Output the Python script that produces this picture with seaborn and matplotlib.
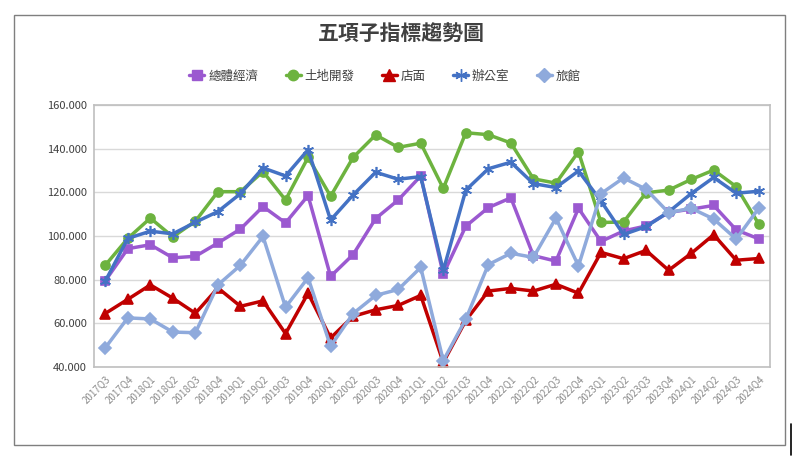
import numpy as np
import pandas as pd
import matplotlib
matplotlib.use("Agg")
import matplotlib.pyplot as plt
import matplotlib.patches as mpatches
import matplotlib.lines as mlines
import seaborn as sns

quarters = ["2017Q3", "2017Q4",
            "2018Q1", "2018Q2", "2018Q3", "2018Q4",
            "2019Q1", "2019Q2", "2019Q3", "2019Q4",
            "2020Q1", "2020Q2", "2020Q3", "2020Q4",
            "2021Q1", "2021Q2", "2021Q3", "2021Q4",
            "2022Q1", "2022Q2", "2022Q3", "2022Q4",
            "2023Q1", "2023Q2", "2023Q3", "2023Q4",
            "2024Q1", "2024Q2", "2024Q3", "2024Q4"]

macro = [79.5, 94.2, 96.0, 90.0, 90.7, 96.8, 103.2, 113.5, 106.0, 118.5,
         81.5, 91.5, 108.0, 116.5, 127.5, 82.5, 104.5, 113.0, 117.5, 91.0,
         88.5, 112.7, 97.5, 102.3, 104.6, 110.8, 112.3, 114.0, 102.8, 98.7]
land = [86.6, 98.9, 108.2, 99.6, 106.8, 120.3, 120.3, 129.5, 116.5, 136.0,
        118.2, 136.0, 146.3, 140.6, 142.5, 121.8, 147.3, 146.4, 142.6, 126.2,
        124.2, 138.6, 106.2, 106.4, 119.8, 121.0, 125.9, 130.2, 122.6, 105.5]
shop = [64.5, 71.0, 77.6, 71.5, 64.6, 76.2, 67.8, 70.3, 55.3, 73.8,
        53.3, 63.2, 66.2, 68.2, 72.8, 42.1, 61.3, 74.8, 76.0, 74.8,
        77.9, 73.8, 92.5, 89.6, 93.4, 84.3, 92.0, 100.6, 88.9, 89.7]
office = [79.3, 98.9, 102.2, 101.0, 106.3, 111.2, 119.4, 131.2, 127.5, 139.5,
          107.3, 118.8, 129.2, 126.0, 127.2, 84.2, 121.0, 130.8, 133.8, 124.0,
          122.2, 129.8, 116.0, 100.7, 104.3, 111.0, 119.4, 126.8, 119.6, 120.5]
hotel = [48.8, 62.5, 62.0, 56.0, 55.7, 77.6, 86.6, 99.8, 67.4, 80.9,
         49.5, 64.5, 72.8, 75.5, 85.6, 42.9, 61.9, 86.9, 92.1, 90.2,
         108.2, 86.3, 119.4, 126.6, 121.4, 110.7, 112.7, 107.8, 98.6, 112.7]

series_names = ["總體經濟", "土地開發", "店面", "辦公室", "旅館"]
series_values = [macro, land, shop, office, hotel]
colors = ["#9B59D0", "#6DB33F", "#C00000", "#4472C4", "#8FAADC"]
markers = ["s", "o", "^", (6, 2, 0), "D"]
msizes = [6, 6.5, 7, 8, 6]

sns.set_theme(style="white")
plt.rcParams["font.family"] = ["Noto Sans CJK TC", "DejaVu Sans"]

rows = []
for name, vals in zip(series_names, series_values):
    for i, v in enumerate(vals):
        rows.append({"idx": i, "quarter": quarters[i], "value": v, "series": name})
df = pd.DataFrame(rows)

fig = plt.figure(figsize=(8.1, 4.59), dpi=100)
ax = fig.add_axes([94/810, 1-367/459, (770-94)/810, (367-105)/459])

handles = []
for name, col, mk, ms in zip(series_names, colors, markers, msizes):
    sub = df[df["series"] == name]
    sns.lineplot(data=sub, x="idx", y="value", ax=ax, color=col, linewidth=2.5,
                 marker=mk, markersize=ms, markeredgecolor=col, markeredgewidth=1.2,
                 legend=False)
    handles.append(mlines.Line2D([], [], color=col, linewidth=2.5, marker=mk,
                                 markersize=ms + 1, markeredgecolor=col, label=name))

ax.set_xlim(-0.5, len(quarters) - 0.5)
ax.set_ylim(40, 160)
ax.set_yticks(np.arange(40, 161, 20))
ax.set_yticklabels([f"{v:.3f}" for v in np.arange(40, 161, 20)], fontsize=8, color="#404040")
ax.set_xticks(range(len(quarters)))
ax.set_xticklabels(quarters, rotation=45, ha="right", rotation_mode="anchor",
                   fontsize=7, color="#8C8C8C")
ax.tick_params(axis="both", length=0, pad=5)
ax.set_xlabel("")
ax.set_ylabel("")
ax.grid(axis="y", color="#D9D9D9", linewidth=1)
ax.set_axisbelow(True)
for sp in ax.spines.values():
    sp.set_visible(True)
    sp.set_color("#BFBFBF")
    sp.set_linewidth(1.2)

fig.text(0.495, 1-33/459, "五項子指標趨勢圖", ha="center", va="center",
         fontsize=15, fontweight="bold", color="#404040")

fig.legend(handles=handles, loc="center", bbox_to_anchor=(385/810, 1-76/459),
           ncol=5, frameon=False, fontsize=9, handlelength=1.2, handletextpad=0.3,
           columnspacing=2.2, labelcolor="#404040")

frame = mpatches.Rectangle((14/810, 1-445/459), (785-14)/810, (445-15)/459,
                           transform=fig.transFigure, fill=False,
                           edgecolor="#7F7F7F", linewidth=1.0)
fig.add_artist(frame)
fig.add_artist(mlines.Line2D([791/810, 791/810], [1-455/459, 1-424/459],
                             transform=fig.transFigure, color="black", linewidth=1.2))

fig.savefig("out.png", dpi=100, facecolor="white")
